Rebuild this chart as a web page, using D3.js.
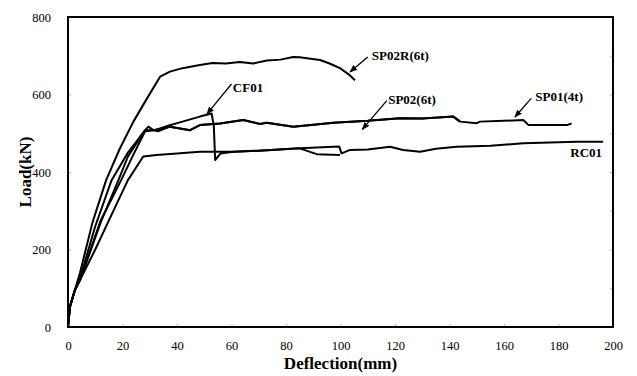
<!DOCTYPE html>
<html>
<head>
<meta charset="utf-8">
<script src="https://cdn.jsdelivr.net/npm/d3@7"></script>
<style>
  body { margin: 0; background: #fff; }
  svg text { font-family: "Liberation Serif", "DejaVu Serif", serif; }
</style>
</head>
<body>
<svg id="chart"></svg>
<script>
// Tick labels
const xTicks = [0, 20, 40, 60, 80, 100, 120, 140, 160, 180, 200];
const yTicks = [0, 200, 400, 600, 800];

// Series: [deflection (mm), load (kN)]
const sp02r = [[0,0],[0.7,52],[2.5,95],[4.4,140],[9,270],[14,379],[19,460],[24,530],[29,590],[33.8,646],[37.4,659],[42,668],[48.4,676],[53,681],[58,680],[63,684],[68,680],[73,688],[78,690],[82.6,697],[85,696],[89,692],[92.5,689],[96,680],[99.8,668],[103,652],[105.3,637]];

const sp02 = [[0,0],[0.7,52],[2.5,95],[4.4,125],[10,260],[16,379],[22,450],[28.3,508],[29.5,517],[31.3,508],[33,505],[37.4,517],[44.8,508],[48.4,521],[55.8,525],[64.3,534],[70.5,524],[72.9,527],[82.7,517],[97.4,527],[110,532],[121.8,539],[130,538],[141.4,543],[143.9,530]];

const sp01 = [[0,0],[0.7,52],[2.5,95],[4.4,121],[12,275],[19.5,379],[24,445],[28.3,505],[31.3,508],[37.4,517],[44.8,508],[48.4,521],[55.8,525],[64.3,534],[70.5,524],[72.9,527],[82.7,517],[97.4,527],[110,532],[121.8,539],[130,538],[141.4,543],[143.9,530],[150,526],[151.2,530],[160,532],[167.1,534],[169,521],[183,521],[184.8,525]];

const cf01 = [[0,0],[0.7,52],[2.5,95],[4.4,121],[12,270],[18.5,379],[22,440],[28.3,508],[32,508],[37,520],[42,530],[48.4,543],[52.7,551],[53.5,520],[54,431],[56,448],[60.7,452],[70,455],[85,461],[91.3,446],[99.8,444]];

const rc01 = [[0,0],[0.7,52],[2.5,95],[4.4,121],[10,200],[16,290],[22,379],[27.6,440],[32.5,444],[40,448],[48.4,452],[60.7,452],[70,455],[85.1,461],[97.4,465],[99.5,466],[100.4,448],[103.5,457],[110,458],[118.2,465],[123,457],[129.2,452],[135,460],[142.6,465],[155,468],[167.1,474],[186.7,478],[196.4,478]];

const seriesList = [sp02r, sp02, sp01, cf01, rc01];

// Annotation labels: text, label position, arrow from -> to (data units)
const labels = [
  { text: "SP02R(6t)", at: [111.5, 702], from: [110, 697], to: [103.5, 658] },
  { text: "CF01",      at: [60.5, 619],  from: [60, 627],  to: [51, 550] },
  { text: "SP02(6t)",  at: [117.5, 586], from: [117, 584], to: [108, 510] },
  { text: "SP01(4t)",  at: [171.5, 594], from: [170, 590], to: [164, 542] },
  { text: "RC01",      at: [196, 450],   from: null, to: null }
];

const W = 637, H = 376;
const plot = { left: 68, right: 613, top: 17, bottom: 327 };

const svg = d3.select("#chart")
    .attr("width", W)
    .attr("height", H);

const x = d3.scaleLinear().domain([0, 200]).range([plot.left, plot.right]);
const y = d3.scaleLinear().domain([0, 800]).range([plot.bottom, plot.top]);

// Axes
svg.append("g")
    .attr("transform", `translate(0,${plot.bottom})`)
    .call(d3.axisBottom(x).tickValues(xTicks).tickSize(-3).tickPadding(14))
    .call(g => g.select(".domain").remove())
    .call(g => g.selectAll("line").attr("stroke", "#888").attr("stroke-width", 0.6))
    .call(g => g.selectAll("text").attr("font-size", 12.5).attr("fill", "#000"));

svg.append("g")
    .attr("transform", `translate(${plot.left},0)`)
    .call(d3.axisLeft(y).tickValues(yTicks).tickSize(-3).tickPadding(17))
    .call(g => g.select(".domain").remove())
    .call(g => g.selectAll("line").attr("stroke", "#888").attr("stroke-width", 0.6))
    .call(g => g.selectAll("text").attr("font-size", 12.5).attr("fill", "#000"));

// Right-side inner ticks
svg.append("g")
    .attr("transform", `translate(${plot.right},0)`)
    .call(d3.axisRight(y).tickValues(d3.range(0, 801, 100)).tickSize(-3).tickFormat(""))
    .call(g => g.select(".domain").remove())
    .call(g => g.selectAll("line").attr("stroke", "#888").attr("stroke-width", 0.6));

// Frame
svg.append("rect")
    .attr("x", plot.left)
    .attr("y", plot.top)
    .attr("width", plot.right - plot.left)
    .attr("height", plot.bottom - plot.top)
    .attr("fill", "none")
    .attr("stroke", "#000")
    .attr("stroke-width", 2);

// Curves
const line = d3.line().x(d => x(d[0])).y(d => y(d[1]));

svg.selectAll(".curve")
    .data(seriesList)
    .enter()
    .append("path")
    .attr("class", "curve")
    .attr("d", line)
    .attr("fill", "none")
    .attr("stroke", "#000")
    .attr("stroke-width", 2)
    .attr("stroke-linejoin", "round");

// Arrow marker
svg.append("defs").append("marker")
    .attr("id", "arrow")
    .attr("viewBox", "0 0 10 10")
    .attr("refX", 9)
    .attr("refY", 5)
    .attr("markerWidth", 6)
    .attr("markerHeight", 6)
    .attr("orient", "auto")
    .append("path")
    .attr("d", "M0,1L10,5L0,9Z")
    .attr("fill", "#000");

labels.filter(d => d.from).forEach(d => {
    svg.append("line")
        .attr("x1", x(d.from[0]))
        .attr("y1", y(d.from[1]))
        .attr("x2", x(d.to[0]))
        .attr("y2", y(d.to[1]))
        .attr("stroke", "#000")
        .attr("stroke-width", 1.3)
        .attr("marker-end", "url(#arrow)");
});

svg.selectAll(".lbl")
    .data(labels)
    .enter()
    .append("text")
    .attr("class", "lbl")
    .attr("x", d => x(d.at[0]))
    .attr("y", d => y(d.at[1]))
    .attr("text-anchor", d => d.text === "RC01" ? "end" : "start")
    .attr("dy", "0.35em")
    .attr("font-size", 13)
    .attr("font-weight", "bold")
    .text(d => d.text);

// Axis titles
svg.append("text")
    .attr("x", (plot.left + plot.right) / 2)
    .attr("y", 369)
    .attr("text-anchor", "middle")
    .attr("font-size", 17)
    .attr("font-weight", "bold")
    .text("Deflection(mm)");

svg.append("text")
    .attr("text-anchor", "middle")
    .attr("transform", `translate(31,${(plot.top + plot.bottom) / 2})rotate(-90)`)
    .attr("font-size", 17)
    .attr("font-weight", "bold")
    .text("Load(kN)");
</script>
</body>
</html>
